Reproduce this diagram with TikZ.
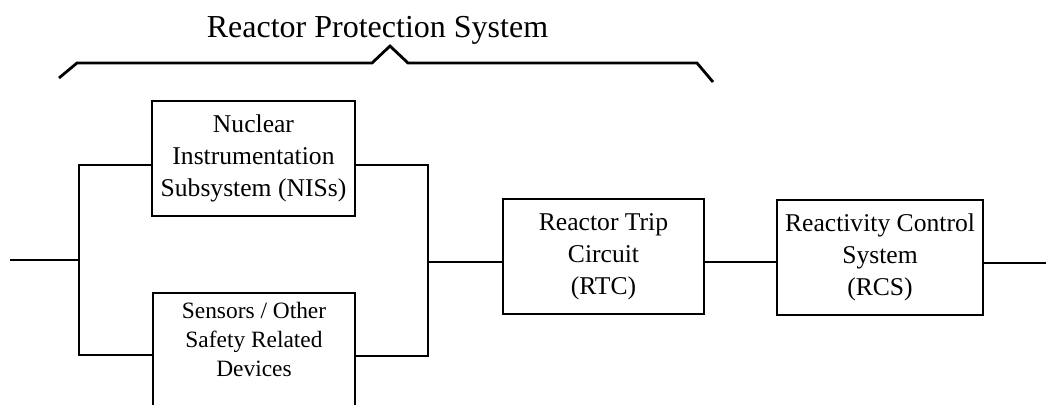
\documentclass[tikz,border=0pt]{standalone}
\usepackage{fontspec}
\setmainfont{Liberation Serif}
\begin{document}
\begin{tikzpicture}[x=0.5pt,y=-0.5pt,
  line width=1pt,
  blk/.style={draw,line width=1pt,inner sep=0pt,align=center,
    font=\fontsize{12.8pt}{16pt}\selectfont},
  smalltext/.style={inner sep=0pt,align=center,
    font=\fontsize{11.7pt}{14.5pt}\selectfont},
  wire/.style={line width=1pt},
  bracewire/.style={line width=1.4pt,line join=miter}]
\useasboundingbox (0,0) rectangle (1046,404);
\clip (0,0) rectangle (1046,404);

% title and brace
\node[anchor=base,inner sep=0pt,font=\fontsize{16pt}{19pt}\selectfont] (title) at (377.5,37) {Reactor Protection System};
\coordinate (b1) at (59,78);
\coordinate (b2) at (77,63);
\coordinate (b3) at (372,63);
\coordinate (b4) at (390,46);
\coordinate (b5) at (408,63);
\coordinate (b6) at (697,63);
\coordinate (b7) at (713,82);
\draw[bracewire] (b1) -- (b2) -- (b3) -- (b4) -- (b5) -- (b6) -- (b7);

% blocks
\node[blk,minimum width=101.5pt,minimum height=57.5pt] (nis) at (253.5,158.5)
  {Nuclear\\Instrumentation\\Subsystem (NISs)};
\node[draw,line width=1pt,inner sep=0pt,minimum width=101pt,minimum height=80pt,anchor=north] (sens) at (254,292) {};
\node[smalltext] (senstext) at (254,339) {Sensors / Other\\Safety Related\\Devices};
\node[blk,minimum width=100.5pt,minimum height=57.5pt] (rtc) at (603.5,256.5)
  {Reactor Trip\\Circuit\\(RTC)};
\node[blk,minimum width=103pt,minimum height=57.5pt] (rcs) at (880,257.5)
  {Reactivity Control\\System\\(RCS)};

% wiring
\coordinate (in) at (10,260);
\coordinate (jl) at (79,260);
\coordinate (lt) at (79,165);
\coordinate (lb) at (79,355);
\coordinate (rt) at (428,165);
\coordinate (rb) at (428,356);
\coordinate (jr) at (428,262);
\coordinate (out) at (1046,263);

\draw[wire] (in) -- (jl);
\draw[wire] (nis.west |- lt) -- (lt) -- (lb) -- (sens.west |- lb);
\draw[wire] (nis.east |- rt) -- (rt) -- (rb) -- (sens.east |- rb);
\draw[wire] (jr) -- (rtc.west |- jr);
\draw[wire] (rtc.east |- jr) -- (rcs.west |- jr);
\draw[wire] (rcs.east |- out) -- (out);
\end{tikzpicture}
\end{document}
